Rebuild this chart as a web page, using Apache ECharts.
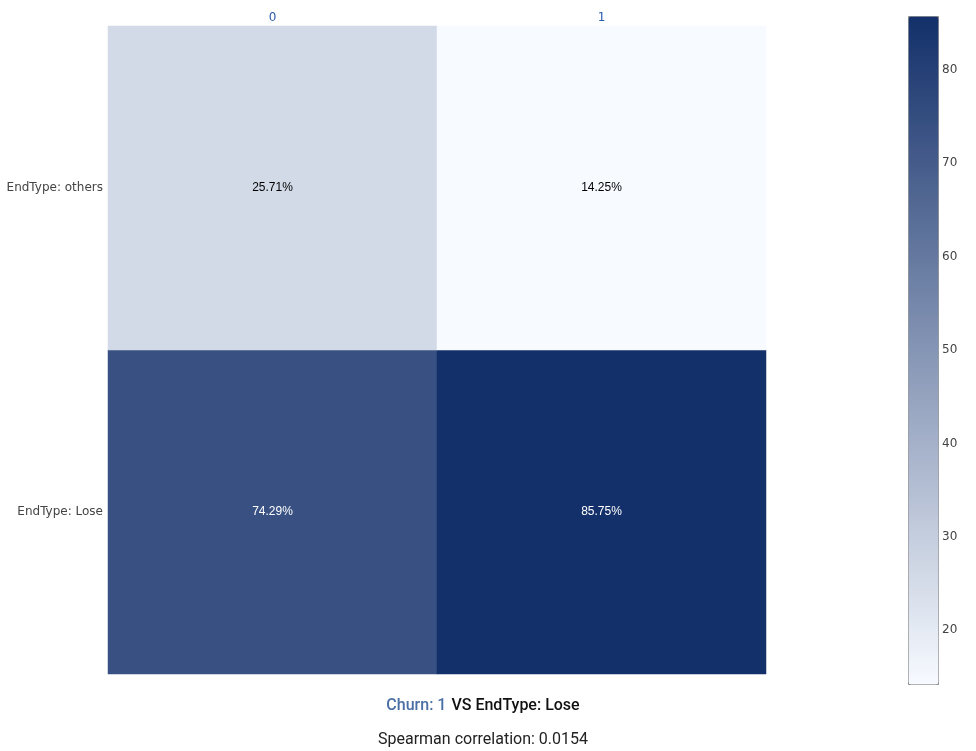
<!DOCTYPE html>
<html lang="en" style="height: 100%;">
<head>
    <meta charset="UTF-8">
    <title>Churn vs EndType</title>
    <script src="https://cdn.jsdelivr.net/npm/echarts@6.0.0/dist/echarts.min.js"></script>
</head>
<body style="height: 100%; margin: 0;">
    <div style="width: 976px; height: 751px;" id="heat"></div>
    <script>
        // categories
        var xCats = ['0', '1'];
        var yCats = ['EndType: Lose', 'EndType: others'];
        // percentages per cell, [xIndex, yIndex, value]
        var cellValues = [
            [0, 0, 74.29],
            [1, 0, 85.75],
            [0, 1, 25.71],
            [1, 1, 14.25]
        ];
        var colorMin = 14.25;
        var colorMax = 85.75;
        var spearman = '0.0154';

        var chart = echarts.init(document.getElementById('heat'));

        var option = {
            animation: false,
            title: [{
                text: '{a|Churn: 1} {b|VS EndType: Lose}',
                left: 478,
                top: 692,
                textAlign: 'center',
                textStyle: {
                    rich: {
                        a: { color: '#4a6fa5', fontSize: 16, fontWeight: 500, fontFamily: 'Roboto' },
                        b: { color: '#111', fontSize: 16, fontWeight: 500, fontFamily: 'Roboto' }
                    }
                }
            }, {
                text: 'Spearman correlation: ' + spearman,
                left: 478,
                top: 727,
                textAlign: 'center',
                textStyle: { color: '#222', fontSize: 16, fontWeight: 'normal', fontFamily: 'Roboto' }
            }],
            grid: [
                { left: 108, top: 26, width: 658, height: 648 },
                { left: 908, top: 16, width: 30, height: 668 }
            ],
            xAxis: [{
                type: 'category',
                data: xCats,
                position: 'top',
                axisLine: { show: false },
                axisTick: { show: false },
                axisLabel: { color: '#2a5caa', fontSize: 12, fontFamily: 'DejaVu Sans', margin: 2 },
                splitLine: { show: false }
            }, {
                gridIndex: 1,
                type: 'value',
                show: false
            }],
            yAxis: [{
                type: 'category',
                data: yCats,
                axisLine: { show: false },
                axisTick: { show: false },
                axisLabel: { color: '#444', fontSize: 12, fontFamily: 'DejaVu Sans', margin: 5 },
                splitLine: { show: false }
            }, {
                gridIndex: 1,
                type: 'value',
                position: 'right',
                min: colorMin,
                max: colorMax,
                minInterval: 10,
                maxInterval: 10,
                axisLine: { show: false },
                axisTick: { show: false },
                splitLine: { show: false },
                axisLabel: {
                    color: '#444',
                    fontSize: 12,
                    fontFamily: 'DejaVu Sans',
                    margin: 4,
                    showMinLabel: false,
                    showMaxLabel: false
                }
            }],
            visualMap: {
                type: 'continuous',
                min: colorMin,
                max: colorMax,
                calculable: false,
                seriesIndex: 0,
                left: 908,
                top: 16,
                itemWidth: 30,
                itemHeight: 668,
                padding: 0,
                borderWidth: 1,
                borderColor: '#888',
                text: ['', ''],
                showLabel: false,
                inRange: { color: ['#f7faff', '#13306a'] }
            },
            series: [{
                type: 'heatmap',
                data: cellValues,
                label: {
                    show: true,
                    fontSize: 12,
                    fontFamily: 'Liberation Sans',
                    formatter: function (p) {
                        return p.value[2].toFixed(2) + '%';
                    },
                    color: '#000'
                },
                itemStyle: { borderWidth: 0 },
                emphasis: { disabled: true }
            }]
        };

        // white text on the dark cells
        option.series[0].data = cellValues.map(function (d) {
            return {
                value: d,
                label: { color: d[2] > 50 ? '#fff' : '#000' }
            };
        });

        chart.setOption(option);
    </script>
</body>
</html>
